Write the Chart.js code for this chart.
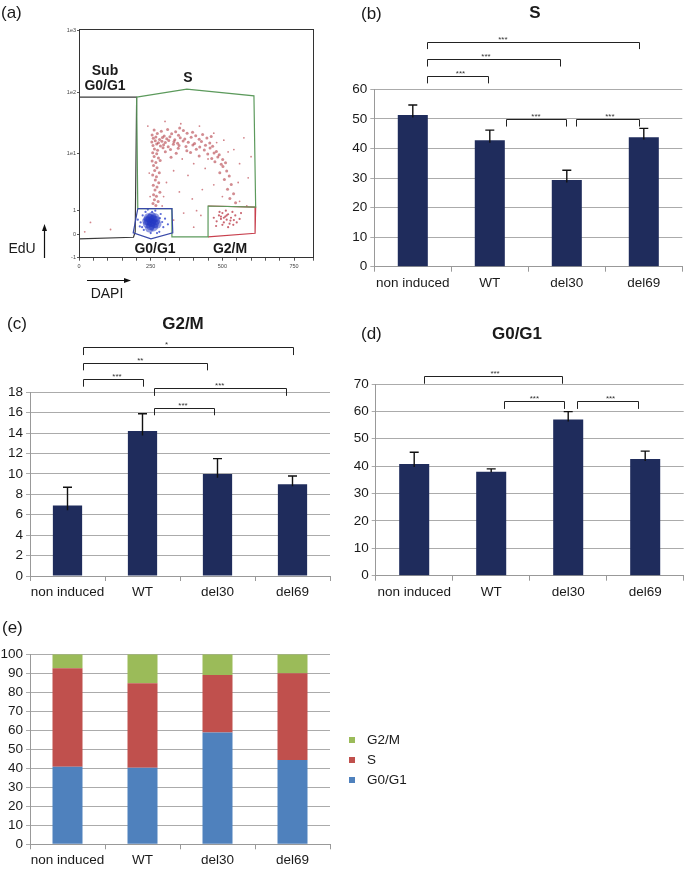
<!DOCTYPE html>
<html lang="en">
<head>
<meta charset="UTF-8">
<title>Cell cycle phases</title>
<script src="https://cdn.jsdelivr.net/npm/chart.js@4.4.1/dist/chart.umd.min.js"></script>
<style>
  body { margin: 0; background: #fff; width: 685px; height: 869px; position: relative; overflow: hidden;
         font-family: "Liberation Sans", Arial, sans-serif; color: #1a1a1a; }
  canvas { position: absolute; }
  .t { position: absolute; transform: translate(-50%, -50%); white-space: nowrap; line-height: 1; }
  .lab { position: absolute; font-size: 17px; line-height: 1; transform: translateY(-50%); }
  .ttl { font-weight: bold; font-size: 17px; }
  .g { font-weight: bold; font-size: 14px; }
  .n { font-size: 14px; }
  .leg { position: absolute; font-size: 13.5px; line-height: 1; transform: translateY(-50%); }
  .sq { position: absolute; width: 6px; height: 6px; transform: translate(-50%, -50%); }
</style>
</head>
<body>
<canvas id="cA" width="340" height="300" style="left:0;top:0"></canvas>
<canvas id="cB" width="345" height="300" style="left:340px;top:0"></canvas>
<canvas id="cC" width="345" height="310" style="left:0;top:300px"></canvas>
<canvas id="cD" width="345" height="310" style="left:340px;top:300px"></canvas>
<canvas id="cE" width="440" height="259" style="left:0;top:610px"></canvas>

<!-- panel labels and titles -->
<div class="lab" style="left:1px;top:12px">(a)</div>
<div class="t g" style="left:105px;top:70px">Sub</div>
<div class="t g" style="left:105px;top:85px">G0/G1</div>
<div class="t g" style="left:188px;top:77px">S</div>
<div class="t g" style="left:155px;top:248px">G0/G1</div>
<div class="t g" style="left:230px;top:248px">G2/M</div>
<div class="t n" style="left:22px;top:248px">EdU</div>
<div class="t n" style="left:107px;top:293px">DAPI</div>

<div class="lab" style="left:361px;top:13px">(b)</div>
<div class="t ttl" style="left:535px;top:12px">S</div>
<div class="lab" style="left:7px;top:323px">(c)</div>
<div class="t ttl" style="left:183px;top:323px">G2/M</div>
<div class="lab" style="left:361px;top:333px">(d)</div>
<div class="t ttl" style="left:517px;top:333px">G0/G1</div>
<div class="lab" style="left:2px;top:627px">(e)</div>

<div class="sq" style="left:352px;top:740px;background:#9bbb59"></div>
<div class="leg" style="left:367px;top:740px">G2/M</div>
<div class="sq" style="left:352px;top:760px;background:#c0504d"></div>
<div class="leg" style="left:367px;top:760px">S</div>
<div class="sq" style="left:352px;top:780px;background:#4f81bd"></div>
<div class="leg" style="left:367px;top:780px">G0/G1</div>

<script>
// ---- data ----
const groups = ['non induced', 'WT', 'del30', 'del69'];

const sPhase = [51.3, 42.8, 29.3, 43.8];
const sErr = [3.4, 3.4, 3.3, 3.0];
const g2Phase = [6.9, 14.2, 10.0, 9.0];
const g2Err = [1.8, 1.7, 1.5, 0.8];
const g1Phase = [40.8, 38.0, 57.0, 42.6];
const g1Err = [4.3, 1.0, 2.9, 2.9];

// stacked distribution (e)
const stackG1 = [40.8, 40.3, 58.9, 44.4];
const stackS = [51.8, 44.4, 30.2, 45.6];
const stackG2 = [7.4, 15.3, 10.9, 10.0];

// significance brackets: [from, to, y, star x, text]
const sBrackets = [
  [0.19, 2.94, 76.1, 1.17, '***'],
  [0.19, 1.91, 70.2, 0.95, '***'],
  [0.19, 0.98, 64.5, 0.62, '***'],
  [1.21, 1.99, 49.9, 1.60, '***'],
  [2.12, 2.94, 49.9, 2.56, '***']
];
const g2Brackets = [
  [0.20, 3.01, 22.4, 1.32, '*'],
  [0.20, 1.86, 20.9, 0.97, '**'],
  [0.20, 1.00, 19.3, 0.66, '***'],
  [1.15, 2.91, 18.4, 2.03, '***'],
  [1.15, 1.95, 16.5, 1.54, '***']
];
const g1Brackets = [
  [0.13, 1.92, 73.0, 1.05, '***'],
  [1.16, 1.94, 63.8, 1.56, '***'],
  [2.12, 2.91, 63.8, 2.55, '***']
];

// flow plot (a): EdU axis ticks
const edTickPos = [-1, 0, 1, 3.42, 6.04, 8.69];
const edTickText = ['-1', '0', '1', '1e1', '1e2', '1e3'];

// gates
const gateSub = [[0, 5.83], [201, 5.83], [196, 0.1], [190, -0.13], [0, -0.2]];
const gateS = [[201, 5.83], [376, 6.17], [610, 5.89], [616, 1.15], [450, 1.2], [450, -0.11],
               [324, -0.11], [324, 1.09], [205, 1.09], [201, 5.83]];
const gateG1 = [[205, 1.09], [324, 1.09], [327, 0.06], [251, -0.2], [189, 0.06], [205, 1.09]];
const gateG2 = [[450, 1.2], [616, 1.15], [614, 0.04], [450, -0.11]];

// cells in S (dense band)
const sCells = [
  [262, 4.43], [287, 4.38], [309, 4.46], [337, 4.36], [364, 4.41], [396, 4.34], [351, 4.52],
  [255, 4.22], [273, 4.29], [297, 4.18], [323, 4.27], [347, 4.21], [377, 4.3], [407, 4.19], [431, 4.24],
  [259, 4.08], [268, 4.14], [281, 4.03], [291, 4.12], [306, 4.06], [317, 4.15], [334, 4.02], [353, 4.11],
  [369, 4.05], [391, 4.13], [419, 4.04], [446, 4.09], [461, 4.16],
  [254, 3.92], [266, 3.98], [277, 3.89], [289, 3.96], [301, 3.9], [313, 3.99], [331, 3.93],
  [344, 3.87], [363, 3.97], [381, 3.91], [403, 3.86], [427, 3.95], [456, 3.88],
  [258, 3.78], [271, 3.84], [284, 3.75], [295, 3.81], [311, 3.72], [329, 3.83], [349, 3.77], [373, 3.73],
  [397, 3.8], [421, 3.71], [441, 3.79], [466, 3.74],
  [263, 3.63], [274, 3.57], [293, 3.68], [319, 3.6], [346, 3.66], [376, 3.55], [409, 3.62],
  [437, 3.58], [457, 3.67], [479, 3.52],
  [257, 3.47], [271, 3.42], [301, 3.51], [339, 3.44], [389, 3.48], [449, 3.41], [471, 3.46], [489, 3.38],
  [262, 3.31], [277, 3.24], [321, 3.28], [419, 3.33], [463, 3.22], [484, 3.29], [501, 3.18],
  [255, 3.12], [268, 3.05], [283, 3.14], [474, 3.08], [496, 2.98], [511, 3.04],
  [260, 2.92], [272, 2.83], [264, 2.71], [280, 2.62], [257, 2.52], [270, 2.44], [266, 2.31], [278, 2.19],
  [259, 2.08], [272, 2.01], [265, 1.88], [282, 1.79], [260, 1.68], [270, 1.61], [263, 1.47], [276, 1.39],
  [258, 1.31], [268, 1.22],
  [502, 2.88], [515, 2.69], [491, 2.61], [524, 2.48], [507, 2.33], [531, 2.12], [518, 1.91], [539, 1.72],
  [526, 1.52], [546, 1.34]
];
// scattered cells
const sparseCells = [
  [240, 4.6], [300, 4.8], [355, 4.7], [420, 4.6], [470, 4.3], [505, 4.0], [540, 3.6], [560, 3.0],
  [575, 4.1], [590, 2.4], [555, 2.2], [500, 1.6], [470, 2.1], [440, 2.8], [400, 3.0], [360, 3.2],
  [330, 2.7], [305, 2.2], [295, 1.6], [290, 1.2], [245, 2.6], [248, 1.6], [350, 1.8], [395, 1.5],
  [430, 1.9], [560, 1.4], [585, 1.2], [380, 2.5], [520, 3.5], [480, 3.9], [450, 3.2], [600, 3.3],
  [330, 0.6], [365, 0.9], [400, 0.3], [425, 0.8], [410, 1.0], [40, 0.5], [110, 0.2], [20, 0.1]
];
// cells in G2/M
const g2Cells = [
  [480, 0.55], [488, 0.8], [495, 0.65], [500, 0.9], [505, 0.5], [510, 0.75], [515, 0.62], [520, 0.85],
  [525, 0.45], [530, 0.7], [535, 0.95], [540, 0.6], [545, 0.8], [550, 0.5], [500, 0.4], [512, 1.0],
  [490, 0.95], [470, 0.7], [560, 0.65], [520, 0.3], [505, 0.7], [515, 0.8], [495, 0.75], [528, 0.58],
  [538, 0.4], [478, 0.35], [565, 0.9]
];
// cells in G0/G1
const g1Core = [
  [253, 0.5], [243, 0.56], [263, 0.45], [250, 0.36], [258, 0.63], [238, 0.44], [268, 0.58], [248, 0.67],
  [260, 0.31], [236, 0.57], [272, 0.43], [254, 0.75], [246, 0.26], [265, 0.7], [242, 0.7]
];
const g1Halo = [
  [215, 0.5], [222, 0.8], [290, 0.52], [294, 0.3], [285, 0.86], [226, 0.18], [232, 0.95], [280, 0.1],
  [212, 0.33], [300, 0.66], [266, 1.0], [240, 1.05], [272, 0.05], [205, 0.62], [310, 0.42], [228, 0.62],
  [282, 0.68], [250, 0.05], [255, 0.95], [220, 0.3]
];

Chart.defaults.font.family = '"Liberation Sans", Arial, sans-serif';
Chart.defaults.color = '#1a1a1a';
Chart.defaults.animation = false;

const navy = '#1f2c5c';
const axisGray = '#999';
const gridGray = '#ababab';

// draws the error bars above each bar
const errorBars = {
  id: 'errorBars',
  afterDatasetsDraw(chart, args, opts) {
    if (!opts.err) return;
    const ctx = chart.ctx, y = chart.scales.y;
    const vals = chart.data.datasets[0].data;
    ctx.save();
    ctx.strokeStyle = '#111';
    ctx.lineWidth = 1.4;
    chart.getDatasetMeta(0).data.forEach((bar, i) => {
      const top = y.getPixelForValue(vals[i] + opts.err[i]);
      const bot = y.getPixelForValue(vals[i] - opts.err[i] * 0.25);
      ctx.beginPath();
      ctx.moveTo(bar.x, bot); ctx.lineTo(bar.x, top);
      ctx.moveTo(bar.x - 4.5, top); ctx.lineTo(bar.x + 4.5, top);
      ctx.stroke();
    });
    ctx.restore();
  }
};

// significance brackets over the bars
const brackets = {
  id: 'brackets',
  afterDraw(chart, args, opts) {
    if (!opts.list) return;
    const ctx = chart.ctx, x = chart.scales.x, y = chart.scales.y;
    ctx.save();
    ctx.strokeStyle = '#222';
    ctx.lineWidth = 1;
    ctx.fillStyle = '#333';
    ctx.font = '8px "Liberation Sans", Arial';
    ctx.textAlign = 'center';
    ctx.textBaseline = 'alphabetic';
    opts.list.forEach(([a, b, v, s, txt]) => {
      const x1 = Math.round(x.getPixelForValue(a)) + 0.5;
      const x2 = Math.round(x.getPixelForValue(b)) + 0.5;
      const y0 = Math.round(y.getPixelForValue(v)) + 0.5;
      const y1 = y.getPixelForValue(v - opts.leg);
      ctx.beginPath();
      ctx.moveTo(x1, y1); ctx.lineTo(x1, y0); ctx.lineTo(x2, y0); ctx.lineTo(x2, y1);
      ctx.stroke();
      ctx.fillText(txt, x.getPixelForValue(s), y0 - 1);
    });
    ctx.restore();
  }
};

function barPanel(id, values, err, max, step, box, list, leg) {
  return new Chart(document.getElementById(id), {
    type: 'bar',
    data: {
      labels: groups,
      datasets: [{ data: values, backgroundColor: navy, categoryPercentage: 1, barPercentage: 0.39 }]
    },
    options: {
      responsive: false,
      layout: { padding: { top: box.top, right: box.right, left: 0, bottom: 0 } },
      plugins: {
        legend: { display: false },
        tooltip: { enabled: false },
        errorBars: { err: err },
        brackets: { list: list, leg: leg }
      },
      scales: {
        x: {
          grid: { drawOnChartArea: false, offset: true, tickLength: 5, color: axisGray },
          border: { color: axisGray },
          ticks: { font: { size: 13.5 }, padding: 3, maxRotation: 0, autoSkip: false },
          afterFit: s => { s.height = box.xh; }
        },
        y: {
          min: 0, max: max,
          grid: { color: gridGray, tickLength: 4 },
          border: { color: axisGray },
          ticks: { stepSize: step, font: { size: 13.5 }, padding: 3, autoSkip: false },
          afterFit: s => { s.width = box.yw; }
        }
      }
    },
    plugins: [errorBars, brackets]
  });
}

barPanel('cB', sPhase, sErr, 60, 10, { top: 89.3, right: 2.7, xh: 33.3, yw: 34.3 }, sBrackets, 2.5);
barPanel('cC', g2Phase, g2Err, 18, 2, { top: 92.3, right: 15, xh: 34, yw: 30 }, g2Brackets, 0.75);
barPanel('cD', g1Phase, g1Err, 70, 10, { top: 84, right: 1.3, xh: 34.3, yw: 35.7 }, g1Brackets, 2.9);

// (e) stacked distribution
new Chart(document.getElementById('cE'), {
  type: 'bar',
  data: {
    labels: groups,
    datasets: [
      { label: 'G0/G1', data: stackG1, backgroundColor: '#4f81bd' },
      { label: 'S', data: stackS, backgroundColor: '#c0504d' },
      { label: 'G2/M', data: stackG2, backgroundColor: '#9bbb59' }
    ]
  },
  options: {
    responsive: false,
    datasets: { bar: { categoryPercentage: 1, barPercentage: 0.4 } },
    layout: { padding: { top: 44.3, right: 110, left: 0, bottom: 0 } },
    plugins: { legend: { display: false }, tooltip: { enabled: false } },
    scales: {
      x: {
        stacked: true,
        grid: { drawOnChartArea: false, offset: true, tickLength: 5, color: axisGray },
        border: { color: axisGray },
        ticks: { font: { size: 13.5 }, padding: 3, maxRotation: 0, autoSkip: false },
        afterFit: s => { s.height = 24.7; }
      },
      y: {
        stacked: true, min: 0, max: 100,
        grid: { color: gridGray, tickLength: 4 },
        border: { color: axisGray },
        ticks: { stepSize: 10, font: { size: 13.5 }, padding: 3, autoSkip: false },
        afterFit: s => { s.width = 30; }
      }
    }
  }
});

// (a) flow cytometry plot
const frameAndArrows = {
  id: 'frameAndArrows',
  afterDraw(chart) {
    const ctx = chart.ctx, a = chart.chartArea;
    ctx.save();
    ctx.strokeStyle = '#333';
    ctx.lineWidth = 1;
    ctx.strokeRect(Math.round(a.left) + 0.5, Math.round(a.top) + 0.5,
                   Math.round(a.right - a.left), Math.round(a.bottom - a.top));
    // axis arrows
    ctx.fillStyle = '#111';
    ctx.strokeStyle = '#111';
    ctx.lineWidth = 1.2;
    ctx.beginPath(); ctx.moveTo(44.5, 258); ctx.lineTo(44.5, 229); ctx.stroke();
    ctx.beginPath(); ctx.moveTo(44.5, 224); ctx.lineTo(42, 231); ctx.lineTo(47, 231); ctx.fill();
    ctx.beginPath(); ctx.moveTo(87, 280.5); ctx.lineTo(126, 280.5); ctx.stroke();
    ctx.beginPath(); ctx.moveTo(131, 280.5); ctx.lineTo(124, 278); ctx.lineTo(124, 283); ctx.fill();
    ctx.restore();
  }
};

const toXY = pts => pts.map(([x, y]) => ({ x, y }));
const gate = (pts, color) => ({
  data: toXY(pts), showLine: true, borderColor: color, borderWidth: 1.2,
  pointRadius: 0, fill: false, tension: 0
});
const cloud = (pts, color, r) => ({
  data: toXY(pts), backgroundColor: color, pointRadius: r, pointBorderWidth: 0, showLine: false
});

new Chart(document.getElementById('cA'), {
  type: 'scatter',
  data: {
    datasets: [
      gate(gateG1, '#3949a8'),
      gate(gateS, '#5c9a5c'),
      gate(gateG2, '#c8404e'),
      gate(gateSub, '#3a3a3a'),
      cloud(g1Halo, 'rgba(50,70,205,0.8)', 1.1),
      cloud(g1Core, 'rgba(35,55,195,0.5)', 4.5),
      cloud(g2Cells, 'rgba(180,40,55,0.7)', 1.1),
      cloud(sparseCells, 'rgba(180,50,60,0.6)', 0.9),
      cloud(sCells, 'rgba(165,25,35,0.5)', 1.5)
    ]
  },
  options: {
    responsive: false,
    layout: { padding: { top: 29.3, right: 26.7, left: 0, bottom: 0 } },
    plugins: { legend: { display: false }, tooltip: { enabled: false } },
    scales: {
      x: {
        type: 'linear', min: 0, max: 817,
        grid: { drawOnChartArea: false, tickLength: 3, color: '#555' },
        border: { color: '#333' },
        ticks: {
          stepSize: 50, autoSkip: false, maxRotation: 0, padding: 2,
          font: { size: 5.5 }, color: '#444',
          callback: v => (v % 250 === 0 ? v : '')
        },
        afterFit: s => { s.height = 42.3; }
      },
      y: {
        type: 'linear', min: -1, max: 8.72,
        grid: { drawOnChartArea: false, tickLength: 2, color: '#555' },
        border: { color: '#333' },
        afterBuildTicks: s => { s.ticks = edTickPos.map(v => ({ value: v })); },
        ticks: {
          padding: 1, font: { size: 5.5 }, color: '#444',
          callback: (v, i) => edTickText[i]
        },
        afterFit: s => { s.width = 79; }
      }
    }
  },
  plugins: [frameAndArrows]
});
</script>
</body>
</html>
